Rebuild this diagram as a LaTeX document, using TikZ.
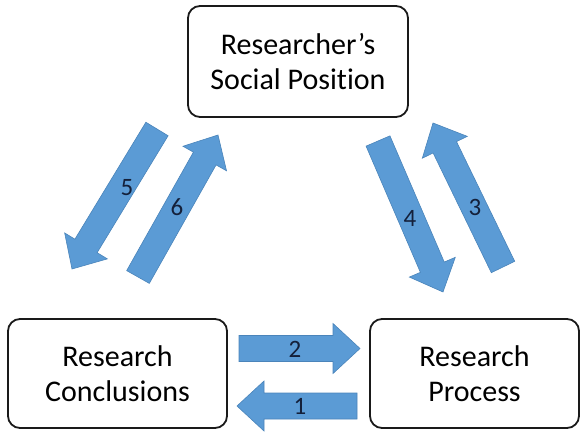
\documentclass[tikz,border=0pt]{standalone}
\usepackage{fontspec}
\setmainfont{Carlito}[Ligatures=NoCommon]
\usetikzlibrary{calc}
\definecolor{arrowblue}{HTML}{5B9BD5}
\definecolor{arrowedge}{HTML}{4A84BA}
\definecolor{numink}{HTML}{14203A}
\definecolor{boxedge}{HTML}{1A1A1A}

% block arrow from tail centre #1 to tip #2
\newcommand\blockarrow[2]{%
  \coordinate (hb) at ($(#2)!\headlen!(#1)$);
  \draw[arrowbody]
    ($(#1)!\bodyhalf!90:(#2)$) -- ($(hb)!\bodyhalf!90:(#2)$) --
    ($(hb)!\headhalf!90:(#2)$) -- (#2) --
    ($(hb)!\headhalf!-90:(#2)$) -- ($(hb)!\bodyhalf!-90:(#2)$) --
    ($(#1)!\bodyhalf!-90:(#2)$) -- cycle;}
\newcommand\bodyhalf{13pt}
\newcommand\headhalf{25pt}
\newcommand\headlen{27pt}

\tikzset{
  stage/.style={draw=boxedge, line width=1.8pt, rounded corners=12pt,
    align=center, font=\fontsize{30}{35}\selectfont, inner sep=0pt},
  arrowbody/.style={fill=arrowblue, draw=arrowedge, line width=0.6pt},
  num/.style={text=numink, font=\fontsize{25}{28}\selectfont, inner sep=0pt},
}

\begin{document}
\begin{tikzpicture}[x=1pt, y=-1pt]
\useasboundingbox (0,0) rectangle (581,433);

% the three stages
\node[stage, minimum width=220pt, minimum height=111pt] (pos) at (298,61.5)
  {Researcher’s\\Social Position};
\node[stage, minimum width=219pt, minimum height=109pt] (concl) at (117.5,373.5)
  {Research\\Conclusions};
\node[stage, minimum width=209pt, minimum height=109pt] (proc) at (474.5,373.5)
  {Research\\Process};

% arrow end points
\coordinate (a5t) at (157,129);  \coordinate (a5h) at (72,269);
\coordinate (a6t) at (138,277);  \coordinate (a6h) at (218,135);
\coordinate (a4t) at (378,141);  \coordinate (a4h) at (443,292);
\coordinate (a3t) at (503,267);  \coordinate (a3h) at (433,123);
\coordinate (a2t) at (239,348.5); \coordinate (a2h) at (360,348.5);
\coordinate (a1t) at (357,406);  \coordinate (a1h) at (237,406);

\blockarrow{a5t}{a5h}
\blockarrow{a6t}{a6h}
\blockarrow{a4t}{a4h}
\blockarrow{a3t}{a3h}
\blockarrow{a2t}{a2h}
\blockarrow{a1t}{a1h}

% step numbers
\node[num] (n5) at (127,188) {5};
\node[num] (n6) at (177,207) {6};
\node[num] (n4) at (410,218) {4};
\node[num] (n3) at (475,207) {3};
\node[num] (n2) at (295,349) {2};
\node[num] (n1) at (300,406) {1};
\end{tikzpicture}
\end{document}
